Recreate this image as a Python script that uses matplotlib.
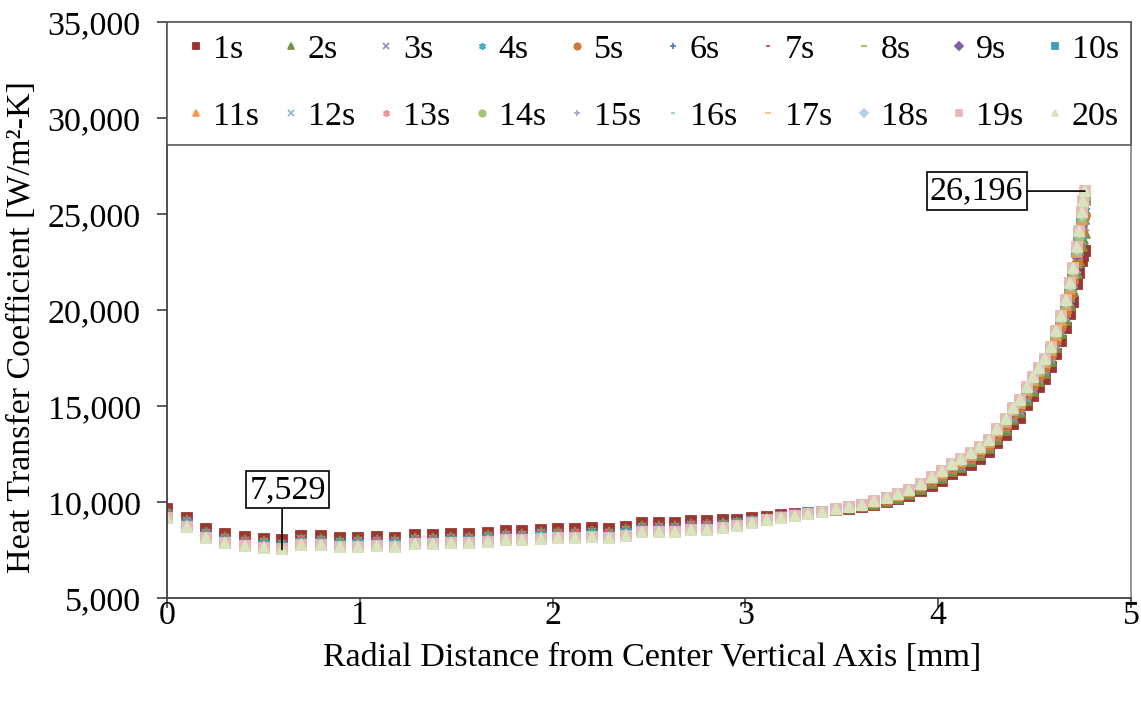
import matplotlib
matplotlib.use("Agg")
import matplotlib.pyplot as plt
from matplotlib.ticker import FuncFormatter, MultipleLocator

plt.rcParams['font.family'] = ['Liberation Serif', 'DejaVu Serif']

# radial positions of the nodes [mm]
r_mm = [0.000, 0.104, 0.202, 0.301, 0.405, 0.503, 0.596, 0.695, 0.799, 0.897,
        0.991, 1.089, 1.183, 1.286, 1.380, 1.473, 1.566, 1.665, 1.758, 1.841,
        1.940, 2.028, 2.116, 2.204, 2.293, 2.381, 2.464, 2.552, 2.635, 2.718,
        2.801, 2.884, 2.956, 3.034, 3.112, 3.185, 3.257, 3.325, 3.397, 3.470,
        3.537, 3.605, 3.667, 3.734, 3.792, 3.849, 3.911, 3.968, 4.020, 4.072,
        4.118, 4.170, 4.217, 4.264, 4.305, 4.352, 4.388, 4.424, 4.461, 4.492,
        4.523, 4.554, 4.585, 4.611, 4.637, 4.663, 4.684, 4.699, 4.720, 4.730,
        4.746, 4.751, 4.761]

# heat transfer coefficient [W/m2-K], one list per time step
h_1s = [9640, 9190, 8580, 8330, 8180, 8090, 8000, 8240, 8220, 8110,
        8140, 8160, 8150, 8280, 8280, 8340, 8340, 8410, 8480, 8480,
        8560, 8590, 8590, 8630, 8590, 8710, 8900, 8900, 8900, 9000,
        9000, 9040, 9080, 9160, 9240, 9320, 9380, 9440, 9480, 9560,
        9650, 9720, 9850, 9990, 10150, 10330, 10570, 10860, 11110, 11460,
        11680, 11950, 12240, 12590, 13080, 13510, 14050, 14400, 15030, 15500,
        15980, 16410, 17020, 17720, 18380, 19040, 19780, 20440, 21340, 21920,
        22560, 22840, 23100]
h_2s = [9500, 9050, 8440, 8190, 8040, 7950, 7860, 8100, 8080, 7970,
        8000, 8020, 8010, 8140, 8140, 8200, 8200, 8270, 8340, 8340,
        8420, 8450, 8450, 8490, 8450, 8570, 8760, 8760, 8760, 8860,
        8860, 8920, 8980, 9080, 9180, 9280, 9350, 9430, 9480, 9580,
        9680, 9770, 9910, 10060, 10230, 10430, 10680, 10990, 11260, 11620,
        11850, 12130, 12430, 12790, 13300, 13750, 14310, 14670, 15320, 15800,
        16290, 16720, 17340, 18070, 18780, 19480, 20270, 20970, 21930, 22570,
        23320, 23700, 24030]
h_3s = [9450, 9000, 8390, 8140, 7990, 7900, 7810, 8050, 8030, 7920,
        7950, 7970, 7960, 8090, 8090, 8150, 8150, 8220, 8290, 8290,
        8370, 8400, 8400, 8440, 8400, 8520, 8710, 8710, 8710, 8810,
        8810, 8880, 8950, 9060, 9160, 9260, 9340, 9420, 9480, 9580,
        9690, 9780, 9930, 10090, 10260, 10460, 10720, 11040, 11310, 11670,
        11900, 12190, 12490, 12850, 13370, 13830, 14390, 14760, 15410, 15900,
        16390, 16830, 17450, 18190, 18910, 19620, 20430, 21140, 22120, 22790,
        23580, 23980, 24340]
h_4s = [9400, 8950, 8340, 8090, 7940, 7850, 7760, 8000, 7980, 7870,
        7900, 7920, 7910, 8040, 8040, 8100, 8100, 8170, 8240, 8240,
        8320, 8350, 8350, 8390, 8350, 8470, 8660, 8660, 8660, 8760,
        8760, 8840, 8910, 9030, 9140, 9250, 9330, 9420, 9480, 9590,
        9710, 9800, 9950, 10110, 10290, 10490, 10760, 11080, 11360, 11730,
        11960, 12250, 12550, 12920, 13440, 13910, 14480, 14850, 15510, 16000,
        16490, 16930, 17560, 18310, 19040, 19770, 20590, 21320, 22320, 23010,
        23830, 24270, 24650]
h_5s = [9360, 8910, 8300, 8050, 7900, 7810, 7720, 7960, 7940, 7830,
        7860, 7880, 7870, 8000, 8000, 8060, 8060, 8130, 8200, 8200,
        8280, 8310, 8310, 8350, 8310, 8430, 8620, 8620, 8620, 8720,
        8720, 8800, 8880, 9000, 9120, 9240, 9330, 9420, 9480, 9600,
        9720, 9810, 9960, 10130, 10320, 10520, 10800, 11120, 11400, 11780,
        12020, 12300, 12610, 12990, 13510, 13980, 14560, 14940, 15610, 16100,
        16590, 17030, 17670, 18430, 19170, 19920, 20750, 21500, 22520, 23230,
        24080, 24560, 24960]
h_6s = [9310, 8860, 8250, 8000, 7850, 7760, 7670, 7910, 7890, 7780,
        7810, 7830, 7820, 7950, 7950, 8010, 8010, 8080, 8150, 8150,
        8230, 8260, 8260, 8300, 8260, 8380, 8570, 8570, 8570, 8670,
        8670, 8760, 8850, 8980, 9100, 9220, 9320, 9410, 9480, 9600,
        9730, 9830, 9980, 10160, 10350, 10550, 10840, 11170, 11450, 11830,
        12070, 12360, 12670, 13050, 13580, 14060, 14650, 15030, 15700, 16200,
        16690, 17140, 17780, 18550, 19300, 20060, 20910, 21670, 22710, 23450,
        24340, 24840, 25270]
h_7s = [9290, 8840, 8230, 7980, 7830, 7740, 7650, 7890, 7870, 7760,
        7790, 7810, 7800, 7930, 7930, 7990, 7990, 8060, 8130, 8130,
        8210, 8240, 8240, 8280, 8240, 8360, 8550, 8550, 8550, 8650,
        8650, 8740, 8830, 8960, 9090, 9210, 9310, 9410, 9480, 9610,
        9730, 9830, 9990, 10170, 10360, 10570, 10860, 11190, 11480, 11860,
        12100, 12390, 12710, 13090, 13620, 14100, 14690, 15080, 15750, 16250,
        16750, 17190, 17830, 18610, 19370, 20140, 21000, 21760, 22810, 23560,
        24470, 24990, 25430]
h_8s = [9260, 8810, 8200, 7950, 7800, 7710, 7620, 7860, 7840, 7730,
        7760, 7780, 7770, 7900, 7900, 7960, 7960, 8030, 8100, 8100,
        8180, 8210, 8210, 8250, 8210, 8330, 8520, 8520, 8520, 8620,
        8620, 8720, 8820, 8950, 9080, 9210, 9310, 9410, 9480, 9610,
        9740, 9840, 10000, 10180, 10370, 10590, 10870, 11210, 11500, 11880,
        12130, 12420, 12740, 13120, 13660, 14140, 14730, 15120, 15800, 16300,
        16800, 17240, 17880, 18660, 19440, 20210, 21080, 21850, 22910, 23660,
        24590, 25130, 25580]
h_9s = h_8s  # not separable from 8s in the picture
h_10s = [9240, 8790, 8180, 7930, 7780, 7690, 7600, 7840, 7820, 7710,
         7740, 7760, 7750, 7880, 7880, 7940, 7940, 8010, 8080, 8080,
         8160, 8190, 8190, 8230, 8190, 8310, 8500, 8500, 8500, 8600,
         8600, 8700, 8800, 8940, 9070, 9200, 9300, 9410, 9480, 9610,
         9740, 9850, 10010, 10190, 10390, 10600, 10890, 11230, 11530, 11910,
         12160, 12450, 12770, 13150, 13690, 14180, 14770, 15170, 15850, 16350,
         16850, 17290, 17940, 18720, 19500, 20280, 21160, 21940, 23010, 23770,
         24720, 25270, 25740]
h_11s = h_10s
h_12s = [9220, 8770, 8160, 7910, 7760, 7670, 7580, 7820, 7800, 7690,
         7720, 7740, 7730, 7860, 7860, 7920, 7920, 7990, 8060, 8060,
         8140, 8170, 8170, 8210, 8170, 8290, 8480, 8480, 8480, 8580,
         8580, 8680, 8780, 8930, 9060, 9190, 9300, 9400, 9480, 9610,
         9750, 9860, 10020, 10210, 10400, 10620, 10910, 11260, 11550, 11940,
         12180, 12480, 12800, 13180, 13730, 14220, 14820, 15210, 15890, 16400,
         16900, 17350, 17990, 18780, 19570, 20350, 21240, 22020, 23100, 23880,
         24850, 25410, 25890]
h_13s = h_12s
h_14s = h_12s
h_15s = [9190, 8740, 8130, 7880, 7730, 7640, 7550, 7790, 7770, 7660,
         7690, 7710, 7700, 7830, 7830, 7890, 7890, 7960, 8030, 8030,
         8110, 8140, 8140, 8180, 8140, 8260, 8450, 8450, 8450, 8550,
         8550, 8660, 8770, 8910, 9050, 9190, 9290, 9400, 9480, 9620,
         9750, 9860, 10030, 10220, 10420, 10630, 10930, 11280, 11580, 11960,
         12210, 12510, 12830, 13220, 13760, 14260, 14860, 15260, 15940, 16450,
         16950, 17400, 18050, 18840, 19630, 20430, 21320, 22110, 23200, 23990,
         24970, 25560, 26050]
h_16s = h_15s
h_17s = h_15s
h_18s = h_15s
h_20s = [9170, 8720, 8110, 7860, 7710, 7620, 7529, 7770, 7750, 7640,
         7670, 7690, 7680, 7810, 7810, 7870, 7870, 7940, 8010, 8010,
         8090, 8120, 8120, 8160, 8120, 8240, 8430, 8430, 8430, 8530,
         8530, 8640, 8750, 8900, 9040, 9180, 9290, 9400, 9480, 9620,
         9760, 9870, 10040, 10230, 10430, 10650, 10950, 11300, 11600, 11990,
         12240, 12540, 12860, 13250, 13800, 14300, 14900, 15300, 15990, 16500,
         17000, 17450, 18100, 18900, 19700, 20500, 21400, 22200, 23300, 24100,
         25100, 25700, 26196]
h_19s = h_20s

labels = ['%ds' % k for k in range(1, 21)]
series = [h_1s, h_2s, h_3s, h_4s, h_5s, h_6s, h_7s, h_8s, h_9s, h_10s,
          h_11s, h_12s, h_13s, h_14s, h_15s, h_16s, h_17s, h_18s, h_19s, h_20s]

ast = (6, 2, 0)
styles = [('s', '#9C3430', 6.5), ('^', '#76923C', 7), ('x', '#9D8FC0', 6),
          (ast, '#4BACC6', 7), ('o', '#D07A35', 6.5), ('+', '#4F81BD', 7),
          ('_', '#C0504D', 4), ('_', '#9BBB59', 7), ('D', '#7F5FA8', 5.5),
          ('s', '#3D9FBC', 6.5), ('^', '#F79646', 7), ('x', '#95B3D7', 6),
          (ast, '#E6959A', 7), ('o', '#A5C26F', 6.5), ('+', '#B3A2C7', 7),
          ('_', '#93CDDD', 4), ('_', '#FAC090', 7), ('D', '#B9CDE5', 5.5),
          ('s', '#E6B9B8', 6.5), ('^', '#D7E4BD', 7)]

fs = 24.5
fig = plt.figure(figsize=(11.41, 7.02), dpi=100)
ax = fig.add_axes([0.1464, 0.1481, 0.8448, 0.8205])

handles = []
for vals, lab, (mk, col, ms) in zip(series, labels, styles):
    ln, = ax.plot(r_mm, vals, linestyle='none', marker=mk, color=col,
                  markersize=ms, markeredgecolor=col, markeredgewidth=1.3,
                  label=lab)
    handles.append(ln)

ax.set_xlim(0, 5)
ax.set_ylim(5000, 35000)
ax.xaxis.set_major_locator(MultipleLocator(1))
ax.yaxis.set_major_locator(MultipleLocator(5000))
ax.yaxis.set_major_formatter(FuncFormatter(lambda v, p: '{:,.0f}'.format(v)))
ax.tick_params(direction='out', length=7, width=1.2, labelsize=fs,
               color='#404040')
ax.tick_params(axis='y', pad=12)
ax.tick_params(axis='x', pad=-5)
for side in ['left', 'bottom']:
    ax.spines[side].set_color('#404040')
    ax.spines[side].set_linewidth(1.3)
for side in ['top', 'right']:
    ax.spines[side].set_color('#8c8c8c')
    ax.spines[side].set_linewidth(1.3)

ax.set_xlabel('Radial Distance from Center Vertical Axis [mm]', fontsize=fs)
ax.set_ylabel('Heat Transfer Coefficient [W/m²-K]', fontsize=fs)
ax.xaxis.set_label_coords(0.503, -0.077)
ax.yaxis.set_label_coords(-0.135, 0.47)

# legend filled row by row (matplotlib fills columns first)
order = []
for c in range(10):
    order += [c, c + 10]
leg = ax.legend([handles[i] for i in order], [labels[i] for i in order],
                ncol=10, loc='upper left', bbox_to_anchor=(0, 0, 1, 1),
                mode='expand', borderaxespad=0, fontsize=fs, markerscale=0.7,
                handlelength=1.0, handletextpad=0.0, columnspacing=0.5,
                labelspacing=1.07, borderpad=0.36, fancybox=False,
                framealpha=1, edgecolor='#595959')
leg.get_frame().set_linewidth(1.2)

box = dict(boxstyle='square,pad=0.1', facecolor='white', edgecolor='black',
           linewidth=1.2)
ax.annotate('{:,}'.format(min(h_20s)), xy=(r_mm[6], min(h_20s)),
            xytext=(0.625, 10650), fontsize=fs, ha='center', va='center',
            bbox=box, arrowprops=dict(arrowstyle='-', color='black', lw=1.2,
                                      relpos=(0.43, 0), shrinkA=0, shrinkB=0))
ax.annotate('{:,}'.format(h_20s[-1]), xy=(r_mm[-1], h_20s[-1]),
            xytext=(4.2, h_20s[-1]), fontsize=fs, ha='center', va='center',
            bbox=box, arrowprops=dict(arrowstyle='-', color='black', lw=1.2,
                                      relpos=(1, 0.5), shrinkA=0, shrinkB=0))

fig.savefig('out.png', dpi=100)
